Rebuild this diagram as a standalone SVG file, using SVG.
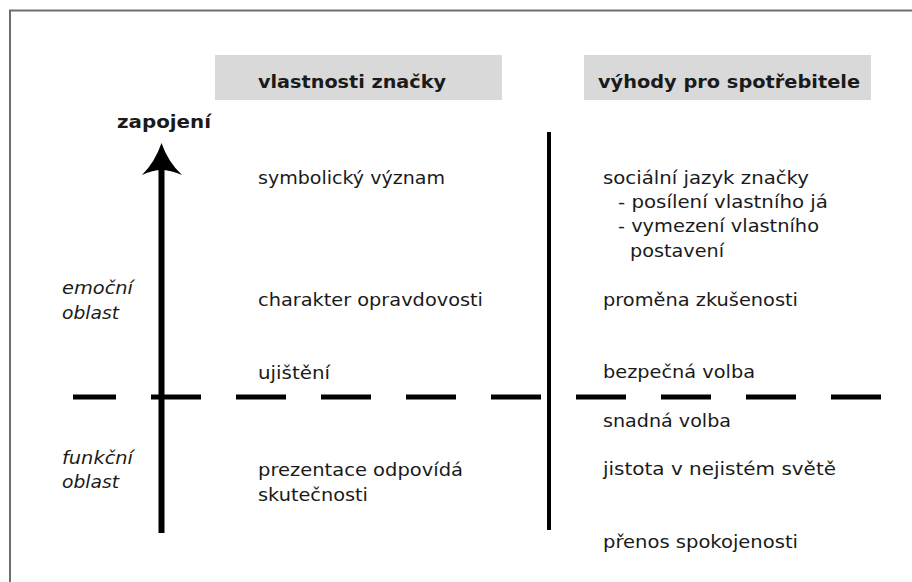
<svg xmlns="http://www.w3.org/2000/svg" width="912" height="582" viewBox="0 0 912 582">
<defs>
<style>
.t{font-family:"DejaVu Sans","Liberation Sans",sans-serif;font-size:17px;fill:#1a1a1a}
.h{font-family:"DejaVu Sans","Liberation Sans",sans-serif;font-size:18px;font-weight:bold;fill:#1a1a1a}
.i{font-style:italic}
.hb{fill:#d9d9d9}
</style>
</defs>
<rect width="912" height="582" fill="#ffffff"/>
<path d="M10,582 V10.5 H912" fill="none" stroke="#6e6e6e" stroke-width="2"/>
<g id="header-left"><rect class="hb" x="215" y="55" width="287" height="45"/><text class="h" x="258" y="88" textLength="188" lengthAdjust="spacingAndGlyphs">vlastnosti značky</text></g>
<g id="header-right"><rect class="hb" x="584" y="55" width="287" height="45"/><text class="h" x="598" y="88" textLength="262" lengthAdjust="spacingAndGlyphs">výhody pro spotřebitele</text></g>
<g id="axis-label"><text class="h" x="117" y="128" textLength="94" lengthAdjust="spacingAndGlyphs">zapojení</text></g>
<g id="connectors">
<line x1="161.5" y1="165" x2="161.5" y2="533" stroke="#000" stroke-width="6"/>
<path d="M161.5,143 Q168,162 182,175 Q170,170 161.5,170 Q153,170 142,175 Q155,162 161.5,143 Z" fill="#000"/>
<line x1="549" y1="132" x2="549" y2="530" stroke="#000" stroke-width="4"/>
<line x1="73" y1="397" x2="882" y2="397" stroke="#000" stroke-width="5" stroke-dasharray="50 35" stroke-dashoffset="7"/>
</g>
<g id="region-emo"><text class="t i" x="62" y="294" textLength="71" lengthAdjust="spacingAndGlyphs">emoční</text><text class="t i" x="62" y="319" textLength="57" lengthAdjust="spacingAndGlyphs">oblast</text></g>
<g id="region-fun"><text class="t i" x="62" y="464" textLength="71" lengthAdjust="spacingAndGlyphs">funkční</text><text class="t i" x="62" y="488" textLength="57" lengthAdjust="spacingAndGlyphs">oblast</text></g>
<g id="l1"><text class="t" x="258" y="184" textLength="187" lengthAdjust="spacingAndGlyphs">symbolický význam</text></g>
<g id="l2"><text class="t" x="258" y="306" textLength="225" lengthAdjust="spacingAndGlyphs">charakter opravdovosti</text></g>
<g id="l3"><text class="t" x="258" y="379" textLength="72" lengthAdjust="spacingAndGlyphs">ujištění</text></g>
<g id="l4"><text class="t" x="258" y="476" textLength="205" lengthAdjust="spacingAndGlyphs">prezentace odpovídá</text><text class="t" x="258" y="501" textLength="110" lengthAdjust="spacingAndGlyphs">skutečnosti</text></g>
<g id="r1"><text class="t" x="603" y="184" textLength="206" lengthAdjust="spacingAndGlyphs">sociální jazyk značky</text><text class="t" x="618" y="208" textLength="210" lengthAdjust="spacingAndGlyphs">- posílení vlastního já</text><text class="t" x="618" y="232" textLength="201" lengthAdjust="spacingAndGlyphs">- vymezení vlastního</text><text class="t" x="630" y="257" textLength="94" lengthAdjust="spacingAndGlyphs">postavení</text></g>
<g id="r2"><text class="t" x="603" y="306" textLength="195" lengthAdjust="spacingAndGlyphs">proměna zkušenosti</text></g>
<g id="r3"><text class="t" x="603" y="378" textLength="152" lengthAdjust="spacingAndGlyphs">bezpečná volba</text></g>
<g id="r4"><text class="t" x="603" y="427" textLength="128" lengthAdjust="spacingAndGlyphs">snadná volba</text></g>
<g id="r5"><text class="t" x="603" y="475" textLength="233" lengthAdjust="spacingAndGlyphs">jistota v nejistém světě</text></g>
<g id="r6"><text class="t" x="603" y="548" textLength="195" lengthAdjust="spacingAndGlyphs">přenos spokojenosti</text></g>
</svg>
